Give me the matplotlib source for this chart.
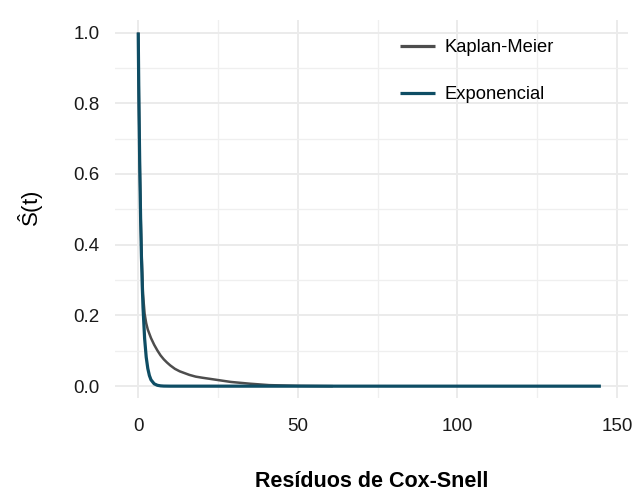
import matplotlib
matplotlib.use('Agg')
import matplotlib.pyplot as plt
from matplotlib.ticker import MultipleLocator

plt.rcParams['font.family'] = ['Liberation Sans', 'DejaVu Sans']
plt.rcParams['mathtext.fontset'] = 'custom'
plt.rcParams['mathtext.rm'] = 'Liberation Sans'

# Kaplan-Meier estimate of the Cox-Snell residuals
km_t = [0, 0.1, 0.25, 0.5, 0.75, 1, 1.5, 2, 2.5, 3, 4, 5, 6, 7, 8, 9, 10, 11.5,
        13, 16, 18, 20, 23, 26, 29, 32, 35, 38, 41, 50, 61]
km_s = [1.0, 0.90, 0.78, 0.62, 0.49, 0.39, 0.26, 0.205, 0.178, 0.160, 0.136,
        0.117, 0.101, 0.087, 0.076, 0.067, 0.059, 0.049, 0.042, 0.032, 0.027,
        0.024, 0.020, 0.016, 0.012, 0.0095, 0.007, 0.005, 0.003, 0.001, 0.0]

# exponential fit
exp_t = [0, 0.1, 0.2, 0.3, 0.5, 0.75, 1, 1.25, 1.5, 2, 2.5, 3, 3.5, 4, 5, 6, 7,
         8, 10, 145]
exp_s = [1.0, 0.905, 0.819, 0.741, 0.607, 0.472, 0.368, 0.287, 0.223, 0.135,
         0.082, 0.050, 0.030, 0.018, 0.0067, 0.0025, 0.0009, 0.0003, 0.00005, 0.0]

fig = plt.figure(figsize=(6.35, 4.91), dpi=100)
ax = fig.add_axes([0.181, 0.189, 0.808, 0.770])

ax.plot(km_t, km_s, color='#4D4D4D', lw=1.8, label='Kaplan-Meier', solid_capstyle='butt')
ax.plot(exp_t, exp_s, color='#0E4D64', lw=2.3, label='Exponencial', solid_capstyle='butt')

ax.set_xlim(-7.3, 153.5)
ax.set_ylim(-0.034, 1.035)
ax.xaxis.set_major_locator(MultipleLocator(50))
ax.xaxis.set_minor_locator(MultipleLocator(25))
ax.yaxis.set_major_locator(MultipleLocator(0.2))
ax.yaxis.set_minor_locator(MultipleLocator(0.1))
ax.yaxis.set_major_formatter(plt.FuncFormatter(lambda v, p: f'{v:.1f}'))

ax.grid(which='major', color='#EBEBEB', lw=1.4)
ax.grid(which='minor', color='#EFEFEF', lw=0.9)
ax.set_axisbelow(True)
for s in ax.spines.values():
    s.set_visible(False)
ax.tick_params(which='both', length=0)
ax.tick_params(axis='both', labelsize=13.5, colors='#1A1A1A')
ax.tick_params(axis='x', pad=14)
ax.tick_params(axis='y', pad=11)

ax.set_xlabel('Resíduos de Cox-Snell', fontsize=15.5, fontweight='bold', labelpad=26)
ax.set_ylabel(r'$\hat{\mathrm{S}}\mathrm{(t)}$', fontsize=16, labelpad=20)

leg = ax.legend(loc='upper left', frameon=False, fontsize=13.2, handlelength=1.9,
                handletextpad=0.55, labelspacing=1.65, borderpad=0, borderaxespad=0,
                bbox_to_anchor=(400 / 635, 1 - 39 / 491), bbox_transform=fig.transFigure)
for h in leg.get_lines():
    h.set_linewidth(2.3)

fig.savefig('out.png', dpi=100)
